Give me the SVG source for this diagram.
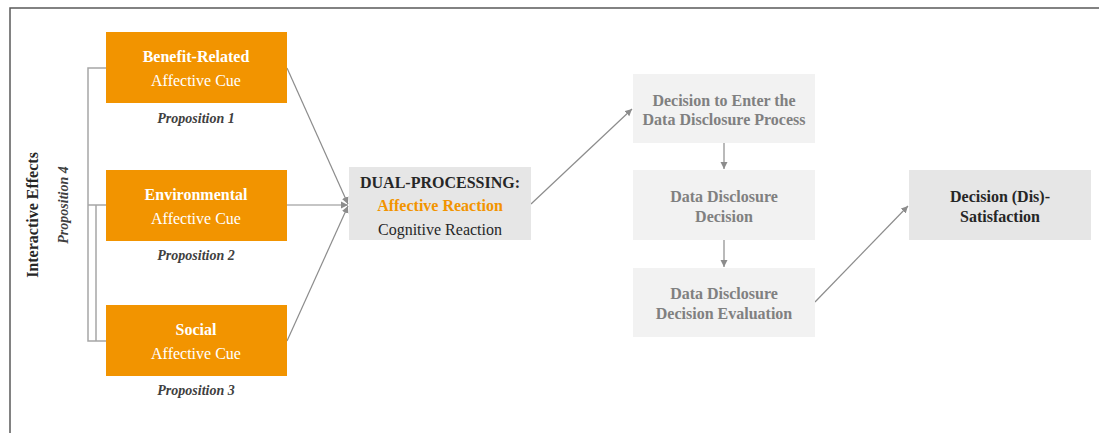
<svg xmlns="http://www.w3.org/2000/svg" width="1099" height="433" viewBox="0 0 1099 433">
<style>
text{font-family:"Liberation Serif","Times New Roman","DejaVu Serif",serif;text-anchor:middle}
.cue{fill:#F29400}
.wb{fill:#fff;font-weight:bold;font-size:16px}
.wr{fill:#fff;font-size:16px}
.prop{fill:#404040;font-weight:bold;font-style:italic;font-size:14px}
.gb{fill:#808080;font-weight:bold;font-size:16px}
.db{fill:#262626;font-weight:bold;font-size:16px}
.conn{stroke:#8c8c8c;stroke-width:1.2;fill:none}
.br{stroke:#a6a6a6;stroke-width:1.5;fill:none}
</style>
<defs>
<marker id="ah" markerWidth="8" markerHeight="8" refX="7" refY="4" orient="auto" markerUnits="userSpaceOnUse">
<path d="M0,0.5 L7,4 L0,7.5 Z" fill="#8c8c8c"/>
</marker>
</defs>
<g id="frame">
<path d="M10,433 V8 H1099" stroke="#595959" stroke-width="1.5" fill="none"/>
</g>
<g id="connectors">
<path class="br" d="M106,68 H88 V341 H106 M106,205 H88 M106,205 H96 V341"/>
<line class="conn" x1="287" y1="68" x2="348" y2="204" marker-end="url(#ah)"/>
<line class="conn" x1="287" y1="205" x2="348" y2="205" marker-end="url(#ah)"/>
<line class="conn" x1="287" y1="341" x2="348" y2="206" marker-end="url(#ah)"/>
<line class="conn" x1="531" y1="204" x2="632" y2="109" marker-end="url(#ah)"/>
<line class="conn" x1="724" y1="143" x2="724" y2="169" marker-end="url(#ah)"/>
<line class="conn" x1="724" y1="240" x2="724" y2="267" marker-end="url(#ah)"/>
<line class="conn" x1="815" y1="302" x2="908" y2="206" marker-end="url(#ah)"/>
</g>
<g id="benefit">
<rect class="cue" x="106" y="32" width="181" height="71"/>
<text class="wb" x="196" y="61.5">Benefit-Related</text>
<text class="wr" x="196" y="85.5">Affective Cue</text>
</g>
<g id="prop1"><text class="prop" x="196" y="122.5">Proposition 1</text></g>
<g id="environmental">
<rect class="cue" x="106" y="170" width="181" height="71"/>
<text class="wb" x="196" y="199.5">Environmental</text>
<text class="wr" x="196" y="223.5">Affective Cue</text>
</g>
<g id="prop2"><text class="prop" x="196" y="259.5">Proposition 2</text></g>
<g id="social">
<rect class="cue" x="106" y="305" width="181" height="71"/>
<text class="wb" x="196" y="334.5">Social</text>
<text class="wr" x="196" y="358.5">Affective Cue</text>
</g>
<g id="prop3"><text class="prop" x="196" y="394.5">Proposition 3</text></g>
<g id="interactive">
<text class="db" transform="translate(38,215) rotate(-90)">Interactive Effects</text>
</g>
<g id="prop4">
<text class="prop" transform="translate(68,205) rotate(-90)">Proposition 4</text>
</g>
<g id="dual">
<rect x="349" y="167" width="182" height="73" fill="#E6E6E6"/>
<text class="db" x="440" y="187.5">DUAL-PROCESSING:</text>
<text x="440" y="210.5" style="fill:#F29400;font-weight:bold;font-size:16px">Affective Reaction</text>
<text x="440" y="234.5" style="fill:#262626;font-size:16px">Cognitive Reaction</text>
</g>
<g id="enter">
<rect x="633" y="74" width="182" height="69" fill="#F2F2F2"/>
<text class="gb" x="724" y="105.5">Decision to Enter the</text>
<text class="gb" x="724" y="124.5">Data Disclosure Process</text>
</g>
<g id="decision">
<rect x="633" y="170" width="182" height="70" fill="#F2F2F2"/>
<text class="gb" x="724" y="201.5">Data Disclosure</text>
<text class="gb" x="724" y="221.5">Decision</text>
</g>
<g id="evaluation">
<rect x="633" y="268" width="182" height="69" fill="#F2F2F2"/>
<text class="gb" x="724" y="298.5">Data Disclosure</text>
<text class="gb" x="724" y="318.5">Decision Evaluation</text>
</g>
<g id="satisfaction">
<rect x="909" y="170" width="182" height="70" fill="#E6E6E6"/>
<text class="db" x="1000" y="201.5">Decision (Dis)-</text>
<text class="db" x="1000" y="221.5">Satisfaction</text>
</g>
</svg>
